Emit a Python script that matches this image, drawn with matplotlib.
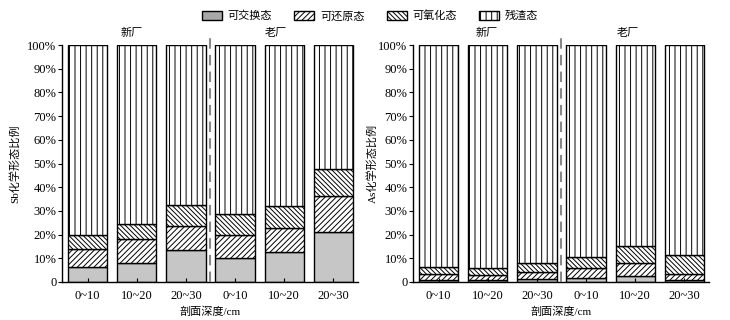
import matplotlib
matplotlib.use("Agg")
import matplotlib.pyplot as plt
from matplotlib.patches import Patch
import numpy as np

plt.rcParams['font.family'] = ['Liberation Serif', 'Noto Sans CJK SC']
plt.rcParams['hatch.linewidth'] = 0.7

depths = ["0~10", "10~20", "20~30", "0~10", "10~20", "20~30"]
fractions = ["可交换态", "可还原态", "可氧化态", "残渣态"]

# layer heights (%)
sb_exch = [6.4, 7.9, 13.7, 10.2, 12.7, 20.9]
sb_red = [7.6, 10.3, 9.8, 9.7, 10.2, 15.2]
sb_oxi = [5.9, 6.4, 9.2, 9.0, 9.0, 11.4]

as_exch = [1.0, 0.8, 1.2, 1.7, 2.4, 1.0]
as_red = [2.4, 2.2, 3.1, 4.3, 5.8, 2.4]
as_oxi = [3.0, 3.1, 3.6, 4.7, 6.9, 7.9]

fig = plt.figure(figsize=(7.3, 3.2), dpi=100)
ax1 = fig.add_axes([62/730, 1-282/320, 296/730, 237/320])
ax2 = fig.add_axes([413/730, 1-282/320, 296/730, 237/320])

gray = "#c6c6c6"
H_RED = "//////"
H_OXI = "\\\\\\\\\\\\\\"
H_RES = "|||"
styles = [dict(facecolor=gray, hatch=None),
          dict(facecolor="white", hatch=H_RED),
          dict(facecolor="white", hatch=H_OXI),
          dict(facecolor="white", hatch=H_RES)]

CJK = 8

def draw(ax, exch, red, oxi, ylabel, lbl_x, ylab_x):
    x = np.arange(len(depths))
    res = [100 - a - b - c for a, b, c in zip(exch, red, oxi)]
    bottom = np.zeros(len(x))
    for vals, st in zip([exch, red, oxi, res], styles):
        ax.bar(x, vals, width=0.8, bottom=bottom, edgecolor="black",
               linewidth=1.0, **st)
        bottom += np.array(vals)
    ax.set_xlim(-0.52, 5.5)
    ax.set_ylim(0, 100)
    ax.set_yticks(range(0, 101, 10))
    ax.set_yticklabels(["0"] + [f"{v}%" for v in range(10, 101, 10)], fontsize=9)
    ax.set_xticks(x)
    ax.set_xticklabels(depths, fontsize=9)
    ax.tick_params(axis='x', direction='in', length=3, pad=6)
    ax.tick_params(axis='y', direction='out', length=3, pad=1)
    for s in ['top', 'right']:
        ax.spines[s].set_visible(False)
    for s in ['left', 'bottom']:
        ax.spines[s].set_linewidth(1.0)
    ax.set_ylabel(ylabel, fontsize=CJK)
    ax.yaxis.set_label_coords(ylab_x, 0.5)
    ax.set_xlabel("剖面深度/cm", fontsize=CJK, labelpad=3)
    ax.plot([2.5, 2.5], [0, 105], color="#888888", linestyle=(0, (5, 3)),
            linewidth=1.5, clip_on=False, zorder=5)
    ax.text(lbl_x[0], 105, "新厂", ha="center", va="center", fontsize=CJK,
            clip_on=False)
    ax.text(lbl_x[1], 105, "老厂", ha="center", va="center", fontsize=CJK,
            clip_on=False)

draw(ax1, sb_exch, sb_red, sb_oxi, "Sb化学形态比例", (0.9, 3.83), -(62-20)/296)
draw(ax2, as_exch, as_red, as_oxi, "As化学形态比例", (0.97, 3.85), -(413-378)/296)

handles = [Patch(facecolor="#a8a8a8", edgecolor="black", linewidth=1.0),
           Patch(facecolor="white", edgecolor="black", hatch=H_RED, linewidth=1.0),
           Patch(facecolor="white", edgecolor="black", hatch=H_OXI, linewidth=1.0),
           Patch(facecolor="white", edgecolor="black", hatch=H_RES, linewidth=1.0)]
fig.legend(handles, fractions, loc="center", bbox_to_anchor=(370/730, 1-16/320),
           ncol=4, frameon=False, fontsize=CJK, handlelength=1.8,
           handleheight=0.9, columnspacing=2.0, handletextpad=0.5)

fig.savefig("out.png", dpi=100)
